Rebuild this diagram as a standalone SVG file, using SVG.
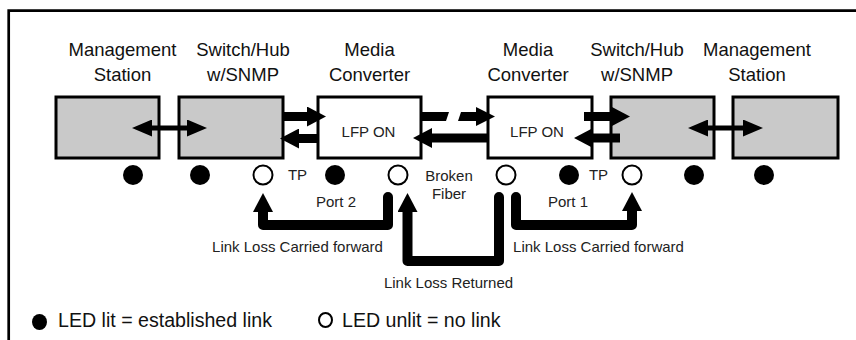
<svg xmlns="http://www.w3.org/2000/svg" width="856" height="340" viewBox="0 0 856 340">
  <style>
    .title{font-family:"Liberation Sans",Arial,sans-serif;font-size:18.5px;fill:#111;text-anchor:middle}
    .lbl{font-family:"Liberation Sans",Arial,sans-serif;font-size:15px;fill:#222;text-anchor:middle}
    .leg{font-family:"Liberation Sans",Arial,sans-serif;font-size:19.6px;fill:#111}
    .dev{fill:#c9c9c9;stroke:#000;stroke-width:3}
    .mc{fill:#fff;stroke:#000;stroke-width:3}
    .on{fill:#000}
    .off{fill:#fff;stroke:#000;stroke-width:2}
    .blk{stroke:#000;stroke-width:9;fill:none}
    .thin{stroke:#000;stroke-width:5;fill:none}
    .ret{stroke:#000;stroke-width:10;fill:none;stroke-linejoin:round;stroke-linecap:round}
  </style>
  <defs>
    <marker id="big" viewBox="0 0 20 20" markerWidth="20" markerHeight="20" markerUnits="userSpaceOnUse" refX="3" refY="10" orient="auto">
      <path d="M0,0 L19,10 L0,20 z" fill="#000"/>
    </marker>
    <marker id="small" viewBox="0 0 20 17" markerWidth="20" markerHeight="17" markerUnits="userSpaceOnUse" refX="2" refY="8.5" orient="auto-start-reverse">
      <path d="M0,0 L20,8.5 L0,17 z" fill="#000"/>
    </marker>
  </defs>

  <path d="M8.7,340 V10.7 H856" fill="none" stroke="#000" stroke-width="2.7"/>

  <g id="mgmt-left">
    <rect class="dev" x="56" y="97" width="103" height="61"/>
    <text class="title" x="122.5" y="56">Management</text>
    <text class="title" x="122.5" y="80.5">Station</text>
    <circle class="on" cx="133" cy="175" r="10"/>
  </g>
  <g id="switch-left">
    <rect class="dev" x="179" y="97" width="104" height="61"/>
    <text class="title" x="243" y="56">Switch/Hub</text>
    <text class="title" x="243" y="80.5">w/SNMP</text>
    <circle class="on" cx="200" cy="175" r="10"/>
    <circle class="off" cx="263" cy="175" r="9.5"/>
    <text class="lbl" x="297.5" y="180">TP</text>
  </g>
  <g id="mc-left">
    <rect class="mc" x="318" y="97" width="103" height="61"/>
    <text class="title" x="369.5" y="56">Media</text>
    <text class="title" x="369.5" y="80.5">Converter</text>
    <text class="lbl" x="368.5" y="137">LFP ON</text>
    <circle class="on" cx="335" cy="175" r="10"/>
    <circle class="off" cx="398" cy="175" r="9.5"/>
    <text class="lbl" x="336" y="207">Port 2</text>
  </g>
  <g id="broken-fiber">
    <text class="lbl" x="449" y="180.5">Broken</text>
    <text class="lbl" x="449" y="199">Fiber</text>
  </g>
  <g id="mc-right">
    <rect class="mc" x="488" y="97" width="104" height="61"/>
    <text class="title" x="528" y="56">Media</text>
    <text class="title" x="528" y="80.5">Converter</text>
    <text class="lbl" x="537" y="137">LFP ON</text>
    <circle class="off" cx="506" cy="175" r="9.5"/>
    <circle class="on" cx="569" cy="175" r="10"/>
    <text class="lbl" x="568" y="207">Port 1</text>
  </g>
  <g id="switch-right">
    <rect class="dev" x="611" y="97" width="103" height="61"/>
    <text class="title" x="637" y="56">Switch/Hub</text>
    <text class="title" x="637" y="80.5">w/SNMP</text>
    <text class="lbl" x="598.5" y="180">TP</text>
    <circle class="off" cx="632" cy="175" r="9.5"/>
    <circle class="on" cx="694" cy="175" r="10"/>
  </g>
  <g id="mgmt-right">
    <rect class="dev" x="733" y="97" width="105" height="61"/>
    <text class="title" x="757" y="56">Management</text>
    <text class="title" x="757" y="80.5">Station</text>
    <circle class="on" cx="764" cy="175" r="10"/>
  </g>

  <g id="connectors">
    <line class="thin" x1="150" y1="128" x2="189" y2="128" marker-start="url(#small)" marker-end="url(#small)"/>
    <line class="blk" x1="283" y1="116.5" x2="310" y2="116.5" marker-end="url(#big)"/>
    <line class="blk" x1="318" y1="138.5" x2="296" y2="138.5" marker-end="url(#big)"/>
    <polygon points="421,112 449,112 446,121 421,121" fill="#000"/>
    <polygon points="461,112 476,112 476,107 495,116.5 476,126 476,121 458,121" fill="#000"/>
    <line class="blk" x1="488" y1="138" x2="429" y2="138" marker-end="url(#big)"/>
    <line class="blk" x1="584" y1="116.5" x2="614" y2="116.5" marker-end="url(#big)"/>
    <line class="blk" x1="620" y1="138" x2="590" y2="138" marker-end="url(#big)"/>
    <line class="thin" x1="706" y1="128" x2="745" y2="128" marker-start="url(#small)" marker-end="url(#small)"/>

    <path class="ret" d="M388,197 V225 H263 V209" marker-end="url(#big)"/>
    <path class="ret" d="M499,197 V261 H407.5 V209" marker-end="url(#big)"/>
    <path class="ret" d="M516,197 V225 H632 V208" marker-end="url(#big)"/>
    <text class="lbl" x="297.5" y="252">Link Loss Carried forward</text>
    <text class="lbl" x="448.5" y="288">Link Loss Returned</text>
    <text class="lbl" x="598.5" y="252">Link Loss Carried forward</text>
  </g>

  <g id="legend">
    <ellipse cx="39.5" cy="322" rx="7.5" ry="8" fill="#000"/>
    <text class="leg" x="58" y="327">LED lit = established link</text>
    <ellipse cx="325.5" cy="320" rx="6.5" ry="7" fill="none" stroke="#000" stroke-width="2"/>
    <text class="leg" x="342" y="327">LED unlit = no link</text>
  </g>
</svg>
